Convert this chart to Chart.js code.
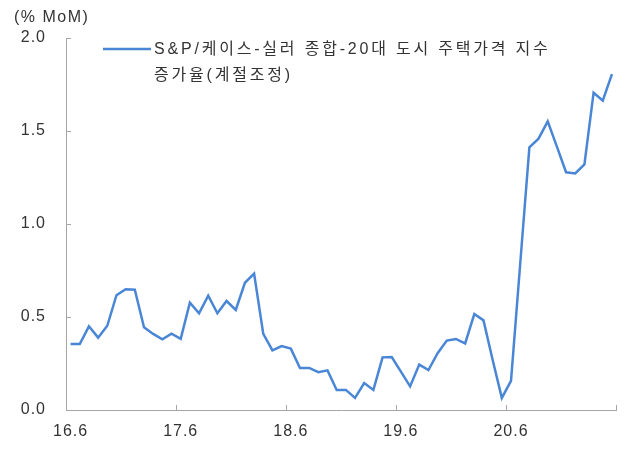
<!DOCTYPE html>
<html>
<head>
<meta charset="utf-8">
<script src="https://cdn.jsdelivr.net/npm/chart.js@4/dist/chart.umd.min.js"></script>
<style>
html,body{margin:0;padding:0;background:#fff;}
#wrap{width:624px;height:450px;}
</style>
</head>
<body>
<div id="wrap"><canvas id="c" width="624" height="450"></canvas></div>
<script>
const categories = [
 '16.6','16.7','16.8','16.9','16.10','16.11','16.12',
 '17.1','17.2','17.3','17.4','17.5','17.6','17.7','17.8','17.9','17.10','17.11','17.12',
 '18.1','18.2','18.3','18.4','18.5','18.6','18.7','18.8','18.9','18.10','18.11','18.12',
 '19.1','19.2','19.3','19.4','19.5','19.6','19.7','19.8','19.9','19.10','19.11','19.12',
 '20.1','20.2','20.3','20.4','20.5','20.6','20.7','20.8','20.9','20.10','20.11','20.12',
 '21.1','21.2','21.3','21.4','21.5'
];
const caseShiller = [
 0.355,0.355,0.45,0.389,0.453,0.617,0.649,
 0.647,0.445,0.409,0.38,0.41,0.383,0.577,0.52,0.615,0.52,0.586,0.538,
 0.684,0.733,0.409,0.321,0.344,0.33,0.226,0.226,0.203,0.213,0.108,0.108,
 0.065,0.145,0.108,0.283,0.285,0.206,0.127,0.244,0.215,0.305,0.373,0.382,
 0.358,0.516,0.482,0.269,0.065,0.157,0.785,1.412,1.459,1.552,1.416,1.278,
 1.272,1.321,1.706,1.663,1.806
];
const tickLabels = ['16.6','17.6','18.6','19.6','20.6'];
const seriesName = ['S&P/케이스-실러 종합-20대 도시 주택가격 지수', '증가율(계절조정)'];
const unitLabel = '(% MoM)';

const FONT = '"Liberation Sans", "Noto Sans CJK KR", sans-serif';
const AXIS = '#a6a6a6';
const TXT = '#333333';
const BLUE = '#4a86d6';

const spacing = {
  id: 'spacing',
  beforeDraw(chart) { chart.ctx.letterSpacing = '1px'; }
};

const extras = {
  id: 'extras',
  afterDraw(chart) {
    const ctx = chart.ctx;
    const xs = chart.scales.x, ys = chart.scales.y;
    const ca = chart.chartArea;
    ctx.save();
    ctx.strokeStyle = AXIS;
    ctx.lineWidth = 1;
    const half = (xs.getPixelForValue(1) - xs.getPixelForValue(0)) / 2;
    ctx.beginPath();
    categories.forEach((c, i) => {
      if (tickLabels.includes(c)) {
        const x = Math.round(xs.getPixelForValue(i) - half) + 0.5;
        ctx.moveTo(x, ca.bottom); ctx.lineTo(x, ca.bottom - 5);
      }
    });
    const xr = Math.round(xs.getPixelForValue(categories.length - 1) + half) - 0.5;
    ctx.moveTo(xr, ca.bottom); ctx.lineTo(xr, ca.bottom - 5);
    ys.ticks.forEach(t => {
      const y = Math.round(ys.getPixelForValue(t.value)) + 0.5;
      ctx.moveTo(ca.left, y); ctx.lineTo(ca.left + 5, y);
    });
    ctx.stroke();
    ctx.fillStyle = TXT;
    ctx.font = '16px ' + FONT;
    ctx.textAlign = 'left';
    ctx.textBaseline = 'middle';
    ctx.letterSpacing = '1.5px';
    ctx.fillText(unitLabel, 14, 18);
    ctx.strokeStyle = BLUE;
    ctx.lineWidth = 2.5;
    ctx.beginPath();
    ctx.moveTo(103, 49); ctx.lineTo(151, 49);
    ctx.stroke();
    ctx.letterSpacing = '2.8px';
    ctx.fillText(seriesName[0], 154, 50);
    ctx.fillText(seriesName[1], 154, 76);
    ctx.restore();
  }
};

new Chart(document.getElementById('c'), {
  type: 'line',
  data: {
    labels: categories,
    datasets: [{
      label: seriesName.join(' '),
      data: caseShiller,
      borderColor: BLUE,
      backgroundColor: BLUE,
      borderWidth: 2.5,
      pointRadius: 0,
      tension: 0,
      fill: false
    }]
  },
  options: {
    responsive: false,
    animation: false,
    devicePixelRatio: 1,
    layout: { padding: { left: 0, right: 6, top: 38, bottom: 0 } },
    plugins: { legend: { display: false }, tooltip: { enabled: false } },
    scales: {
      x: {
        type: 'category',
        offset: true,
        grid: { display: false, drawTicks: false, offset: true },
        border: { display: true, color: AXIS, width: 1 },
        afterFit(s) { s.height = 40; },
        ticks: {
          autoSkip: false, maxRotation: 0, minRotation: 0,
          padding: 12,
          color: TXT,
          font: { family: FONT, size: 16 },
          callback(v, i) { const c = categories[i]; return tickLabels.includes(c) ? c : ''; }
        }
      },
      y: {
        min: 0, max: 2.0,
        grid: { display: false, drawTicks: false },
        border: { display: true, color: AXIS, width: 1 },
        afterFit(s) { s.width = 66; },
        ticks: {
          stepSize: 0.5,
          padding: 20,
          color: TXT,
          font: { family: FONT, size: 16 },
          callback(v) { return Number(v).toFixed(1); }
        }
      }
    }
  },
  plugins: [spacing, extras]
});
</script>
</body>
</html>
